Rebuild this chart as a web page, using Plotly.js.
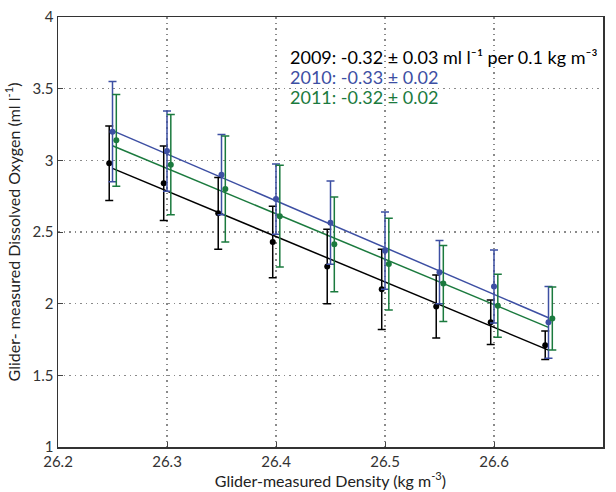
<!DOCTYPE html>
<html>
<head>
<meta charset="utf-8">
<script src="https://cdn.plot.ly/plotly-3.0.1.min.js"></script>
<style>html,body{margin:0;padding:0;background:#fff;}#chart{width:616px;height:492px;}</style>
</head>
<body>
<div id="chart"></div>
<script>
// Density bins (kg m-3)
const densityBins = [26.25, 26.30, 26.35, 26.40, 26.45, 26.50, 26.55, 26.60, 26.65];

// Mean oxygen per bin (ml l-1) and error bar half-widths
const oxy2009 = [2.98, 2.84, 2.63, 2.43, 2.26, 2.10, 1.98, 1.87, 1.71];
const err2009 = [0.26, 0.26, 0.25, 0.25, 0.26, 0.28, 0.22, 0.155, 0.10];
const oxy2010 = [3.20, 3.065, 2.90, 2.73, 2.565, 2.37, 2.22, 2.12, 1.87];
const err2010 = [0.35, 0.28, 0.28, 0.245, 0.29, 0.27, 0.22, 0.255, 0.25];
const oxy2011 = [3.14, 2.97, 2.80, 2.61, 2.414, 2.276, 2.14, 1.985, 1.897];
const err2011 = [0.32, 0.35, 0.37, 0.355, 0.33, 0.32, 0.265, 0.22, 0.22];

// Linear fit end points
const fitX = [26.25, 26.65];
const fit2009 = [2.944, 1.676];
const fit2010 = [3.207, 1.902];
const fit2011 = [3.102, 1.835];

// Annotation labels
const labels = [
  "2009: -0.32 \u00B1 0.03 ml l\u207B\u00B9 per 0.1 kg m\u207B\u00B3",
  "2010: -0.33 \u00B1 0.02",
  "2011: -0.32 \u00B1 0.02"
];

const colors = ["#000000", "#3d4fa3", "#1b7a3e"];
const offsets = [-0.003, 0, 0.0035];

const series = [[oxy2009, err2009, fit2009], [oxy2010, err2010, fit2010], [oxy2011, err2011, fit2011]];
const traces = [];
series.forEach((s, i) => {
  traces.push({
    x: fitX, y: s[2], mode: "lines", type: "scatter",
    line: {color: colors[i], width: 1.5}, hoverinfo: "skip"
  });
});
series.forEach((s, i) => {
  traces.push({
    x: densityBins.map(d => d + offsets[i]), y: s[0], mode: "markers", type: "scatter",
    marker: {color: colors[i], size: 6},
    error_y: {type: "data", array: s[1], visible: true, color: colors[i], thickness: 1.5, width: 4}
  });
});

const font = "Lato, 'Open Sans', sans-serif";
const layout = {
  width: 616, height: 492,
  margin: {l: 58, r: 13, t: 17, b: 45},
  paper_bgcolor: "#fff", plot_bgcolor: "#fff",
  showlegend: false,
  font: {family: font, size: 15, color: "#333"},
  xaxis: {
    range: [26.2, 26.7], tickvals: [26.2, 26.3, 26.4, 26.5, 26.6, 26.7],
    ticktext: ["26.2", "26.3", "26.4", "26.5", "26.6", "26.7"],
    showline: true, linecolor: "#333", linewidth: 1.5, mirror: true,
    ticks: "inside", ticklen: 5, tickcolor: "#444",
    showgrid: true, gridcolor: "#8a8a8a", griddash: "1.5px,4px", gridwidth: 1.2,
    zeroline: false,
    title: {text: "Glider-measured Density (kg m<sup>-3</sup>)", font: {size: 16, family: font, color: "#222"}, standoff: 2}
  },
  yaxis: {
    range: [1, 4], tickvals: [1, 1.5, 2, 2.5, 3, 3.5, 4],
    ticktext: ["1", "1.5", "2", "2.5", "3", "3.5", "4"],
    showline: true, linecolor: "#333", linewidth: 1.5, mirror: true,
    ticks: "inside", ticklen: 5, tickcolor: "#444",
    showgrid: true, gridcolor: "#8a8a8a", griddash: "1.5px,4px", gridwidth: 1.2,
    zeroline: false,
    title: {text: "Glider- measured Dissolved Oxygen (ml l<sup>-1</sup>)", font: {size: 16, family: font, color: "#222"}, standoff: 8}
  },
  annotations: labels.map((t, i) => ({
    text: t, xref: "paper", yref: "paper", x: 0.422, y: 0.907 - i * 0.047,
    xanchor: "left", yanchor: "middle", showarrow: false,
    font: {size: 18, family: font, color: colors[i]}
  }))
};

Plotly.newPlot("chart", traces, layout, {displayModeBar: false, staticPlot: true});
</script>
</body>
</html>
